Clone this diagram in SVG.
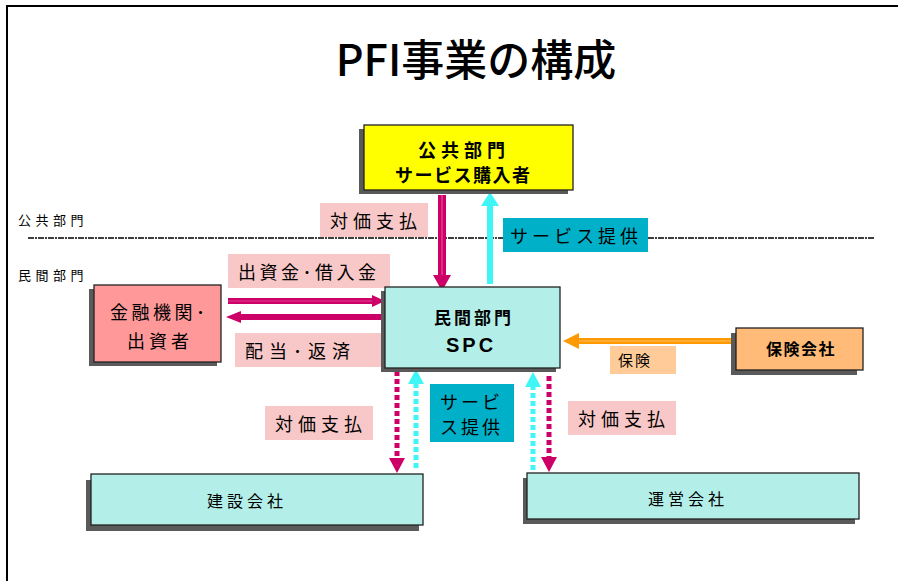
<svg xmlns="http://www.w3.org/2000/svg" width="904" height="581" viewBox="0 0 904 581">
<style>
text{font-family:"Liberation Sans","Noto Sans CJK JP",sans-serif;fill:#000}
.jp{font-family:"Noto Sans CJK JP","Liberation Sans",sans-serif}
.shadow{fill:#5a5a5a}
.box{stroke:#222;stroke-width:1.3}
.cyanbox{fill:#b3efe8}
.pink{fill:#f8c8c8}
.teal{fill:#00b0c8}
.lbl{font-size:18px;letter-spacing:5px}
</style>
<rect width="904" height="581" fill="#fff"/>
<g id="frame">
<line x1="6" y1="6" x2="898" y2="6" stroke="#000" stroke-width="2"/>
<line x1="7" y1="6" x2="7" y2="581" stroke="#000" stroke-width="2"/>
</g>
<g id="title"><text class="jp" x="476" y="76" font-size="43" font-weight="500" text-anchor="middle">PFI事業の構成</text></g>
<g id="sector-labels">
<text class="jp" x="18" y="225" font-size="13" letter-spacing="4.5">公共部門</text>
<text class="jp" x="18" y="280" font-size="13" letter-spacing="4.5">民間部門</text>
<line x1="28" y1="238" x2="875" y2="238" stroke="#000" stroke-width="1.5" stroke-dasharray="6 1 2 1"/>
</g>
<g id="connectors">
<line x1="442" y1="195" x2="442" y2="276" stroke="#cc0066" stroke-width="8"/>
<line x1="442" y1="195" x2="442" y2="276" stroke="#e04090" stroke-width="1.5"/>
<path d="M433,275 L451,275 L442,291 Z" fill="#cc0066"/>
<line x1="490" y1="284" x2="490" y2="205" stroke="#40f5f5" stroke-width="6"/>
<path d="M481,206 L499,206 L490,192 Z" fill="#40f5f5"/>
<line x1="228" y1="301" x2="373" y2="301" stroke="#cc0066" stroke-width="6"/>
<line x1="228" y1="301" x2="373" y2="301" stroke="#e04090" stroke-width="1.2"/>
<path d="M372,295 L385,301 L372,307 Z" fill="#cc0066"/>
<line x1="383" y1="317" x2="240" y2="317" stroke="#cc0066" stroke-width="6"/>
<path d="M241,311 L226,317 L241,323 Z" fill="#cc0066"/>
<line x1="737" y1="341" x2="577" y2="341" stroke="#ff9900" stroke-width="6"/>
<line x1="737" y1="341" x2="577" y2="341" stroke="#ffc060" stroke-width="1.2"/>
<path d="M579,333 L563,341 L579,349 Z" fill="#ff9900"/>
<line x1="397" y1="371" x2="397" y2="458" stroke="#cc0066" stroke-width="5" stroke-dasharray="5 3"/>
<path d="M389,458 L405,458 L397,473 Z" fill="#cc0066"/>
<line x1="416" y1="468" x2="416" y2="384" stroke="#40f5f5" stroke-width="5" stroke-dasharray="5 3"/>
<path d="M408,384 L424,384 L416,369 Z" fill="#40f5f5"/>
<line x1="533" y1="470" x2="533" y2="387" stroke="#40f5f5" stroke-width="5" stroke-dasharray="5 3"/>
<path d="M525,387 L541,387 L533,372 Z" fill="#40f5f5"/>
<line x1="549" y1="376" x2="549" y2="457" stroke="#cc0066" stroke-width="5" stroke-dasharray="5 3"/>
<path d="M541,457 L557,457 L549,472 Z" fill="#cc0066"/>
</g>
<g id="edge-labels">
<rect x="320" y="203" width="108" height="34" class="pink"/>
<text class="jp lbl" x="330" y="228">対価支払</text>
<rect x="503" y="218" width="145" height="34" class="teal"/>
<text class="jp lbl" x="510" y="243" style="letter-spacing:4px">サービス提供</text>
<rect x="228" y="254" width="162" height="34" class="pink"/>
<text class="jp lbl" x="238" y="279" style="letter-spacing:3.5px">出資金･借入金</text>
<rect x="235" y="333" width="148" height="34" class="pink"/>
<text class="jp lbl" x="245" y="358" style="letter-spacing:6px">配当･返済</text>
<rect x="610" y="346" width="66" height="28" fill="#ffcc99"/>
<text class="jp" x="618" y="366" font-size="15" letter-spacing="2">保険</text>
<rect x="430" y="384" width="84" height="58" class="teal"/>
<text class="jp lbl" x="440" y="409" style="letter-spacing:3px">サービ</text>
<text class="jp lbl" x="440" y="434" style="letter-spacing:3px">ス提供</text>
<rect x="265" y="406" width="108" height="34" class="pink"/>
<text class="jp lbl" x="275" y="431">対価支払</text>
<rect x="568" y="401" width="108" height="34" class="pink"/>
<text class="jp lbl" x="578" y="426">対価支払</text>
</g>
<g id="public">
<rect x="359" y="129" width="209" height="65" class="shadow"/>
<rect x="364" y="125" width="209" height="65" fill="#ffff00" class="box"/>
<text class="jp" x="418" y="157" font-size="18" font-weight="bold" letter-spacing="5">公共部門</text>
<text class="jp" x="395" y="182" font-size="18" font-weight="bold" letter-spacing="1.5">サービス購入者</text>
</g>
<g id="finance">
<rect x="89" y="289" width="128" height="77" class="shadow"/>
<rect x="94" y="285" width="127" height="77" fill="#ff9999" class="box"/>
<text class="jp" x="110" y="319" font-size="18" letter-spacing="3.5">金融機関･</text>
<text class="jp" x="127" y="348" font-size="18" letter-spacing="4">出資者</text>
</g>
<g id="spc">
<rect x="381" y="291" width="175" height="81" class="shadow"/>
<rect x="385" y="287" width="175" height="81" class="cyanbox box"/>
<text class="jp" x="434" y="324" font-size="17" font-weight="bold" letter-spacing="3">民間部門</text>
<text x="446" y="352" font-size="20" font-weight="bold" letter-spacing="3">SPC</text>
</g>
<g id="insurance">
<rect x="731" y="333" width="126" height="42" class="shadow"/>
<rect x="736" y="328" width="127" height="42" fill="#ffbb77" class="box"/>
<text class="jp" x="766" y="355" font-size="16" font-weight="bold" letter-spacing="1.5">保険会社</text>
</g>
<g id="construction">
<rect x="86" y="480" width="333" height="51" class="shadow"/>
<rect x="91" y="474" width="332" height="51" class="cyanbox box"/>
<text class="jp" x="207" y="507" font-size="16" letter-spacing="4">建設会社</text>
</g>
<g id="operation">
<rect x="523" y="478" width="332" height="46" class="shadow"/>
<rect x="527" y="473" width="332" height="46" class="cyanbox box"/>
<text class="jp" x="648" y="505" font-size="16" letter-spacing="4">運営会社</text>
</g>
</svg>
